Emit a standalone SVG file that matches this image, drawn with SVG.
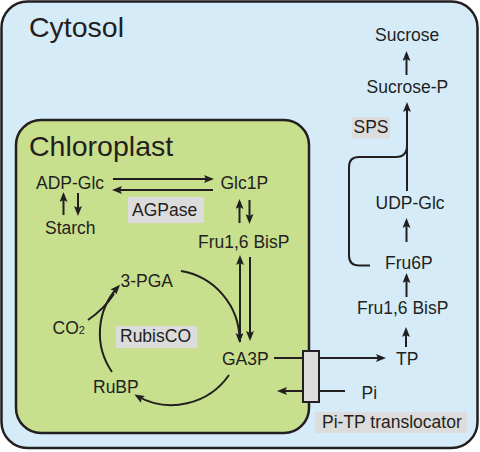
<svg xmlns="http://www.w3.org/2000/svg" width="480" height="452" viewBox="0 0 480 452">
<style>
text{font-family:"Liberation Sans",Arial,sans-serif;fill:#231f20;font-size:17.5px}
.title{font-size:28.5px}
.box{stroke:#231f20;stroke-width:2.5}
.lbl{fill:#dcdcdc}
.ln{fill:none;stroke:#231f20;stroke-width:2}
.ar{fill:none;stroke:#231f20;stroke-width:2;marker-end:url(#ah)}
</style>
<defs>
<marker id="ah" viewBox="0 0 10 8" refX="7" refY="4" markerWidth="10" markerHeight="8" markerUnits="userSpaceOnUse" orient="auto">
<path d="M0,0 L10,4 L0,8 L2,4 Z" fill="#231f20"/>
</marker>
</defs>
<g id="cytosol">
<rect class="box" x="1.5" y="1.5" width="476" height="446.5" rx="26" fill="#d5ecf8"/>
<text class="title" x="29" y="37">Cytosol</text>
</g>
<g id="chloroplast">
<rect class="box" x="16" y="120" width="293" height="313" rx="25" fill="#c8df8e"/>
<text class="title" x="29" y="156">Chloroplast</text>
</g>
<g id="adp-glc"><text x="36" y="189">ADP-Glc</text></g>
<g id="starch"><text x="45" y="234">Starch</text></g>
<g id="glc1p"><text x="220.5" y="189">Glc1P</text></g>
<g id="agpase"><rect class="lbl" x="128" y="197" width="76" height="26"/><text x="132" y="215.5">AGPase</text></g>
<g id="fru16bisp-chl"><text x="198" y="248">Fru1,6 BisP</text></g>
<g id="pga"><text x="120.5" y="287">3-PGA</text></g>
<g id="co2"><text x="52.5" y="334">CO<tspan font-size="11">2</tspan></text></g>
<g id="rubisco"><rect class="lbl" x="116" y="326" width="81" height="22"/><text x="120" y="342">RubisCO</text></g>
<g id="ga3p"><text x="222" y="365">GA3P</text></g>
<g id="rubp"><text x="93" y="392.5">RuBP</text></g>
<g id="translocator"><rect x="303" y="351" width="16" height="51" fill="#dcdcdc" stroke="#231f20" stroke-width="2"/></g>
<g id="translocator-label"><rect class="lbl" x="315" y="412" width="152" height="21"/><text x="322" y="428">Pi-TP translocator</text></g>
<g id="tp"><text x="396" y="364.5">TP</text></g>
<g id="pi"><text x="361.5" y="399">Pi</text></g>
<g id="fru16bisp-cyt"><text x="357" y="314">Fru1,6 BisP</text></g>
<g id="fru6p"><text x="385" y="269">Fru6P</text></g>
<g id="udp-glc"><text x="375.5" y="209">UDP-Glc</text></g>
<g id="sps"><rect class="lbl" x="352" y="117" width="38" height="21.5"/><text x="353.5" y="133">SPS</text></g>
<g id="sucrose-p"><text x="366.5" y="92.5">Sucrose-P</text></g>
<g id="sucrose"><text x="375" y="41">Sucrose</text></g>
<g id="connectors">
<line class="ar" x1="113" y1="179" x2="211" y2="179"/>
<line class="ar" x1="213" y1="190" x2="115" y2="190"/>
<line class="ar" x1="63.5" y1="215" x2="63.5" y2="195"/>
<line class="ar" x1="78" y1="193" x2="78" y2="213"/>
<line class="ar" x1="239.5" y1="223" x2="239.5" y2="202"/>
<line class="ar" x1="249.5" y1="200" x2="249.5" y2="221"/>
<line class="ar" x1="240" y1="342" x2="240" y2="258"/>
<line class="ar" x1="250" y1="257" x2="250" y2="338"/>
<path class="ar" d="M181,271 A70,70 0 0 1 239.5,340"/>
<path class="ar" d="M229,375 A70,70 0 0 1 137,396"/>
<path class="ar" d="M112,372 A68,68 0 0 1 118,287"/>
<path class="ln" d="M88,320 Q104,309 114,294"/>
<line class="ln" x1="274" y1="358" x2="303" y2="358"/>
<line class="ar" x1="319" y1="358" x2="383" y2="358"/>
<line class="ln" x1="345" y1="391" x2="319" y2="391"/>
<line class="ar" x1="303" y1="391" x2="280" y2="391"/>
<line class="ar" x1="406" y1="347" x2="406" y2="330"/>
<line class="ar" x1="406.5" y1="297" x2="406.5" y2="276"/>
<line class="ar" x1="406.5" y1="242" x2="406.5" y2="221"/>
<line class="ar" x1="407" y1="191" x2="407" y2="105"/>
<line class="ar" x1="406.5" y1="75" x2="406.5" y2="54"/>
<path class="ln" d="M370,265.5 H359 Q349,265.5 349,255.5 V167 Q349,157 359,157 H396 Q407,157 407,145"/>
</g>
</svg>
